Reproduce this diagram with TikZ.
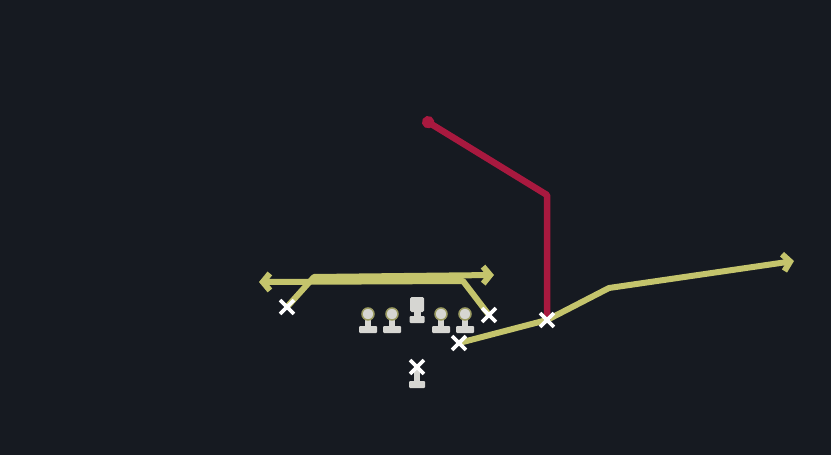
\documentclass[tikz,border=0pt]{standalone}
\usetikzlibrary{arrows.meta,shapes.misc,backgrounds}
\definecolor{bg}{HTML}{161A21}
\definecolor{route}{HTML}{C4C46C}
\definecolor{redroute}{HTML}{A8193F}
\definecolor{icon}{HTML}{D6D6D2}
\definecolor{halo}{HTML}{9C9C62}
\begin{document}
\begin{tikzpicture}[x=1pt,y=-1pt,
  xmark/.style={cross out, draw=white, line width=3.8pt, minimum size=10pt, inner sep=0pt},
  yroute/.style={route, line width=6pt, line join=round},
  rroute/.style={redroute, line width=6.5pt, line join=round},
  ytip/.style={-{Straight Barb[length=7pt,width=17pt]}},
  lineman/.pic={
    \fill[icon] (-3,0) rectangle (3,14);
    \fill[icon, rounded corners=1pt] (-9,12) rectangle (9,19);
    \draw[halo, line width=1.5pt, fill=icon] (0,0) circle (6);
  },
  centerman/.pic={
    \fill[icon, rounded corners=1.5pt] (-7,0) rectangle (7,15);
    \fill[icon] (-3.5,13) rectangle (3.5,20);
    \fill[icon, rounded corners=1pt] (-7.5,19) rectangle (7.5,26);
  },
  qbstand/.pic={
    \fill[icon] (-3,0) rectangle (3,13);
    \fill[icon, rounded corners=1pt] (-8,11) rectangle (8,18);
  }]
\useasboundingbox (0,0) rectangle (831,455);
% player icons
\pic at (368,314) {lineman};
\pic at (392,314) {lineman};
\pic at (441,314) {lineman};
\pic at (465,314) {lineman};
\pic at (417,297) {centerman};
\pic at (417,370) {qbstand};
% X markers
\node[xmark] (lx) at (287,307) {};
\node[xmark] (rx) at (489,315) {};
\node[xmark] (sx) at (459,343) {};
\node[xmark] (mx) at (547,320) {};
\node[xmark] (qb) at (417,367) {};
% route points
\coordinate (a1) at (314,277);
\coordinate (aend) at (494,275);
\coordinate (b1) at (463,281);
\coordinate (bend) at (259,282);
\coordinate (c1) at (609,288);
\coordinate (cend) at (794,261);
\coordinate (r1) at (547,195);
\coordinate (rend) at (423,119);
\begin{scope}[on background layer]
  \fill[bg] (0,0) rectangle (831,455);
  \draw[yroute, ytip] (lx.center) -- (a1) -- (aend);
  \draw[yroute, ytip] (rx.center) -- (b1) -- (bend);
  \draw[yroute, ytip] (sx.center) -- (mx.center) -- (c1) -- (cend);
  \draw[rroute, -{Circle[length=12pt]}] (mx.center) -- (r1) -- (rend);
\end{scope}
\end{tikzpicture}
\end{document}
